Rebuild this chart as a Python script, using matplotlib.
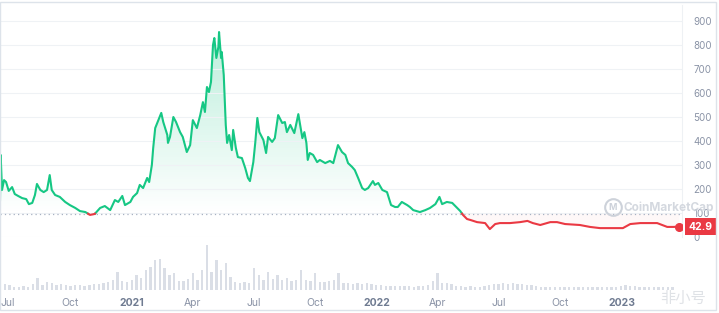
import numpy as np
import pandas as pd
import matplotlib
matplotlib.use('Agg')
import matplotlib.pyplot as plt
import matplotlib.dates as mdates
from matplotlib.colors import LinearSegmentedColormap
from matplotlib.patches import Rectangle
from matplotlib.lines import Line2D
from matplotlib.path import Path

plt.rcParams['font.family'] = ['Inter', 'DejaVu Sans']

START = '2020-06-19'
BASE = 97          # reference price (dotted line)
LAST = 42.9

# price: days after START, price in USD
days = [0, 1, 3, 6, 9, 13, 18, 22, 27, 33,
        39, 43, 48, 52, 55, 60, 65, 70, 74, 77,
        82, 89, 97, 104, 112, 119, 127, 134, 141, 149,
        156, 164, 171, 176, 182, 186, 194, 198, 204, 208,
        213, 219, 222, 226, 228, 231, 234, 240, 243, 249,
        250, 253, 258, 262, 268, 272, 278, 283, 287, 293,
        298, 302, 305, 308, 311, 314, 317, 319, 322, 325,
        326, 329, 330, 333, 336, 338, 341, 345, 347, 351,
        354, 360, 365, 369, 372, 377, 380, 383, 386, 392,
        396, 399, 405, 409, 414, 420, 424, 427, 432, 438,
        444, 450, 453, 456, 458, 461, 466, 472, 476, 484,
        491, 496, 503, 509, 514, 518, 524, 528, 533, 539,
        543, 548, 555, 558, 563, 569, 576, 582, 588, 592,
        598, 606, 610, 615, 625, 633, 640, 648, 654, 658,
        665, 673, 679, 685, 689, 695, 700, 710, 722, 729,
        737, 744, 759, 774, 785, 793, 804, 819, 829, 841,
        863, 878, 893, 908, 927, 938, 953, 968, 978, 993,
        1002, 1011]
price = [154, 342, 196, 237, 229, 192, 208, 179, 171, 162,
         158, 137, 142, 175, 221, 196, 187, 196, 258, 196,
         175, 167, 146, 133, 121, 108, 104, 92, 96, 121,
         129, 112, 154, 146, 171, 133, 146, 167, 183, 217,
         204, 246, 229, 300, 371, 454, 475, 517, 479, 425,
         392, 417, 500, 479, 437, 417, 354, 383, 487, 454,
         508, 562, 521, 625, 604, 646, 800, 829, 746, 792,
         854, 746, 771, 675, 467, 392, 425, 362, 446, 371,
         333, 329, 287, 246, 233, 312, 396, 496, 437, 404,
         350, 417, 396, 412, 508, 475, 479, 437, 467, 433,
         512, 412, 437, 392, 321, 350, 342, 312, 321, 308,
         317, 308, 383, 354, 342, 308, 292, 279, 246, 204,
         196, 204, 233, 217, 225, 196, 187, 133, 125, 125,
         146, 133, 125, 112, 104, 112, 121, 137, 167, 137,
         146, 142, 125, 108, 92, 75, 71, 62, 58, 33,
         54, 58, 58, 62, 67, 58, 50, 62, 62, 54,
         50, 42, 37, 37, 37, 54, 58, 58, 58, 42,
         42, LAST]

# weekly volume (relative units)
vol = [4, 6, 5, 3, 3, 4, 3, 6, 12, 5,
       8, 7, 5, 6, 5, 4, 5, 5, 4, 5,
       6, 6, 7, 8, 10, 18, 9, 8, 10, 15,
       12, 20, 23, 30, 31, 22, 15, 17, 9, 9,
       11, 17, 10, 20, 45, 18, 30, 20, 27, 13,
       8, 7, 8, 7, 22, 15, 10, 18, 11, 15,
       10, 12, 9, 10, 20, 10, 9, 17, 8, 8,
       9, 10, 17, 7, 7, 6, 7, 6, 7, 6,
       5, 5, 4, 4, 4, 4, 4, 4, 3, 4,
       4, 5, 9, 17, 7, 7, 6, 4, 4, 3,
       4, 3, 3, 4, 5, 6, 6, 7, 6, 7,
       6, 6, 5, 5, 4, 3, 3, 3, 3, 3,
       3, 3, 3, 3, 3, 3, 3, 3, 3, 3,
       3, 3, 4, 5, 4, 4, 3, 3, 3, 3,
       3, 3, 3, 3]

tick_dates = ['2020-07-01', '2020-10-01', '2021-01-01', '2021-04-01', '2021-07-01',
              '2021-10-01', '2022-01-01', '2022-04-01', '2022-07-01', '2022-10-01',
              '2023-01-01']
tick_labels = ['Jul', 'Oct', '2021', 'Apr', 'Jul', 'Oct', '2022', 'Apr', 'Jul', 'Oct', '2023']
yticks = [0, 100, 200, 300, 400, 500, 600, 700, 800, 900]

GREEN = '#16c784'
RED = '#ea3943'
GREY = '#8a93a6'

W, H = 719, 313
fig = plt.figure(figsize=(W / 100, H / 100), dpi=100)
fig.patch.set_facecolor('white')

t0 = pd.Timestamp(START)
x = mdates.date2num(t0 + pd.to_timedelta(days, unit='D'))
y = np.array(price, float)

# split the line where it crosses the base price
xs, ys = [x[0]], [y[0]]
for i in range(1, len(x)):
    a, b = y[i - 1] - BASE, y[i] - BASE
    if a * b < 0:
        f = a / (a - b)
        xs.append(x[i - 1] + f * (x[i] - x[i - 1]))
        ys.append(BASE)
    xs.append(x[i])
    ys.append(y[i])
xs, ys = np.array(xs), np.array(ys)

x0 = mdates.date2num(t0)
x1 = x0 + 1015

ax = fig.add_axes([0, (H - 237) / H, 682 / W, (237 - 5) / H])
ax.set_xlim(x0, x1)
ax.set_ylim(0, 232 / 0.24)

# green gradient above base
poly = ax.fill_between(xs, ys, BASE, where=ys >= BASE, color='none', lw=0)
clip = Path.make_compound_path(*poly.get_paths())
cmap = LinearSegmentedColormap.from_list('g', [(0.086, 0.78, 0.52, 0.0), (0.086, 0.78, 0.52, 0.30)])
im = ax.imshow(np.linspace(0, 1, 256).reshape(-1, 1), extent=[x0, x1, BASE, 880],
               origin='lower', aspect='auto', cmap=cmap, zorder=1)
im.set_clip_path(clip, transform=ax.transData)
ax.fill_between(xs, ys, BASE, where=ys <= BASE, color=RED, alpha=0.035, lw=0, zorder=1)

ax.plot(xs, np.where(ys >= BASE, ys, np.nan), color=GREEN, lw=1.5, zorder=3, solid_joinstyle='round')
ax.plot(xs, np.where(ys <= BASE, ys, np.nan), color=RED, lw=1.5, zorder=3, solid_joinstyle='round')
ax.plot(xs[-1], ys[-1], 'o', color=RED, ms=5.5, zorder=4)
ax.axhline(BASE, color='#a7b1c2', ls=(0, (1, 2.5)), lw=0.9, zorder=2)

ax.set_xlim(x0, x1)
ax.set_ylim(0, 232 / 0.24)
ax.set_yticks(yticks)
ax.yaxis.tick_right()
ax.tick_params(axis='y', length=0, pad=8, labelsize=7, labelcolor=GREY)
ax.set_xticks([])
ax.grid(axis='y', color='#eff2f5', lw=0.8, zorder=0)
for s in ['top', 'left', 'bottom']:
    ax.spines[s].set_visible(False)
ax.spines['right'].set_color('#eef1f4')

ax.annotate(f'{LAST}', xy=(1, LAST), xycoords=('axes fraction', 'data'),
            xytext=(4.5, 0), textcoords='offset points', ha='left', va='center',
            color='white', fontsize=7.5, fontweight='bold', zorder=6,
            bbox=dict(boxstyle='square,pad=0.35', fc=RED, ec='none'), annotation_clip=False)

# volume
axv = fig.add_axes([0, (H - 290) / H, 682 / W, 50 / H])
vx = x0 + 7 * np.arange(len(vol))
axv.bar(vx, vol, width=3.5, color='#dadee6', lw=0)
axv.set_xlim(x0, x1)
axv.set_ylim(0, 50)
axv.set_yticks([])
for s in ['top', 'left', 'right', 'bottom']:
    axv.spines[s].set_visible(False)
axv.set_xticks(mdates.date2num(pd.to_datetime(tick_dates)))
axv.set_xticklabels(tick_labels)
axv.tick_params(axis='x', length=0, pad=6, labelsize=7.5, labelcolor=GREY)
for lab in axv.get_xticklabels():
    if lab.get_text().isdigit():
        lab.set_fontweight('bold')
        lab.set_color('#6f7b91')
axv.patch.set_alpha(0)

# watermarks
fig.add_artist(Line2D([613 / W], [1 - 207 / H], marker='o', ms=12, mfc='none', mec='#cdd2da',
                      mew=1.5, transform=fig.transFigure))
fig.text(613 / W, 1 - 207.5 / H, 'M', fontsize=6.5, fontweight='bold', color='#cdd2da',
         ha='center', va='center')
fig.text(624 / W, 1 - 208 / H, 'CoinMarketCap', fontsize=8.5, fontweight='bold', color='#cdd2da',
         ha='left', va='center', alpha=0.85)
fig.text(660 / W, 1 - 298 / H, '非小号', fontsize=11, color='#dadde2', ha='left', va='center',
         family=['Noto Sans CJK SC', 'DejaVu Sans'], alpha=0.85)

fig.add_artist(Rectangle((0, 3 / H), 716 / W, 308 / H, transform=fig.transFigure,
                         fill=False, ec='#dde3ea', lw=1))

fig.savefig('out.png', dpi=100)
